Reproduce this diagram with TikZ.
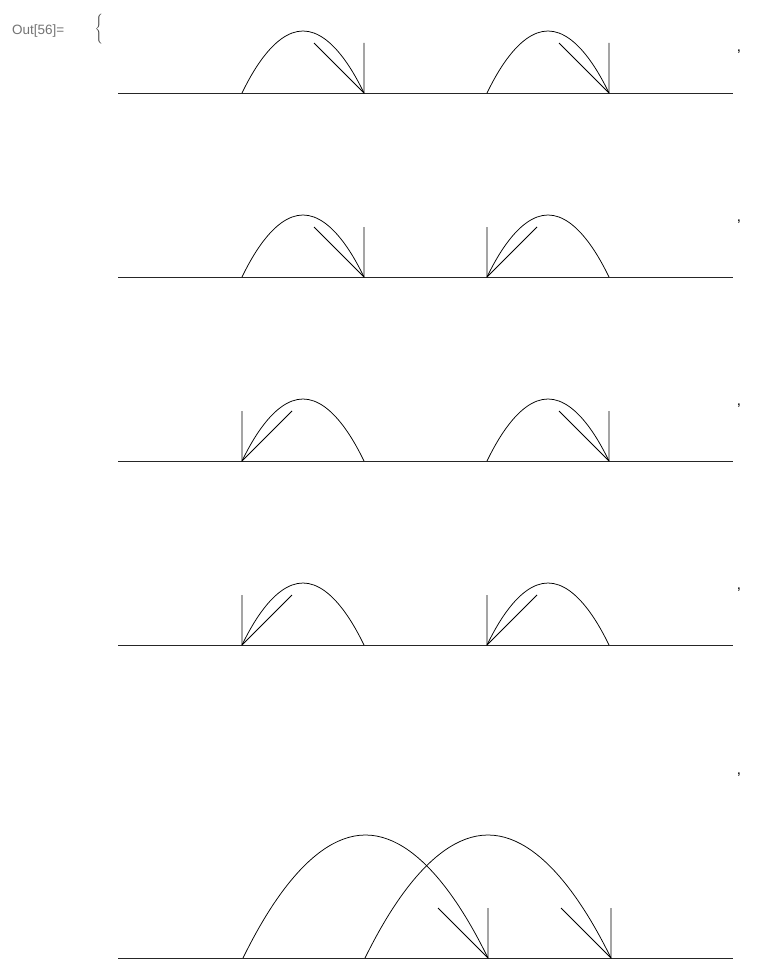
\documentclass[tikz,border=0pt]{standalone}
\usepackage{fontspec}
\setmainfont{Liberation Sans}
\usetikzlibrary{positioning}
\tikzset{
  axisline/.style={line width=0.9pt, draw=black!85},
  hopline/.style={line width=0.75pt, draw=black},
  marker/.style={line width=0.75pt, draw=black},
  outlabel/.style={font=\fontsize{13.5}{15}\selectfont, text=black!55, inner sep=0pt, anchor=west},
  sepcomma/.style={font=\fontsize{15}{16}\selectfont, inner sep=0pt},
}
% one jump: x start, x end, base line, height
\newcommand{\hop}[4]{%
  \draw[hopline] (#1,#3) parabola bend ({(#1+#2)/2},{#3-#4}) (#2,#3);}
% marker at a landing point (right) or take-off point (left)
\newcommand{\markR}[2]{\draw[marker] (#1,#2-50) -- (#1,#2) -- (#1-50,#2-50);}
\newcommand{\markL}[2]{\draw[marker] (#1,#2-50) -- (#1,#2) -- (#1+50,#2-50);}

\begin{document}
\begin{tikzpicture}[x=1pt, y=-1pt]
  \useasboundingbox (0,0) rectangle (756,960);

  \node[outlabel] (outlbl) at (12,31) {Out[56]=};
  \node[inner sep=0pt, font=\fontsize{11}{11}\selectfont, text=black!80] (brace) at (99,29) {$\Bigg\{$};

  % rows 1--4
  \foreach \yb in {93,277,461,645}
    \draw[axisline] (118,\yb) -- (733,\yb);
  \foreach \yb in {93,277,461,645} {
    \hop{242}{364}{\yb}{62}
    \hop{487}{609}{\yb}{62}
  }
  \markR{364}{93}  \markR{609}{93}
  \markR{364}{277} \markL{487}{277}
  \markL{242}{461} \markR{609}{461}
  \markL{242}{645} \markL{487}{645}

  % row 5
  \draw[axisline] (118,958) -- (733,958);
  \hop{243}{488}{958}{123}
  \hop{365}{611}{958}{123}
  \markR{488}{958} \markR{611}{958}

  \foreach \yc [count=\i] in {52,222,406,590,775}
    \node[sepcomma] (comma\i) at (739,\yc) {,};
\end{tikzpicture}
\end{document}
